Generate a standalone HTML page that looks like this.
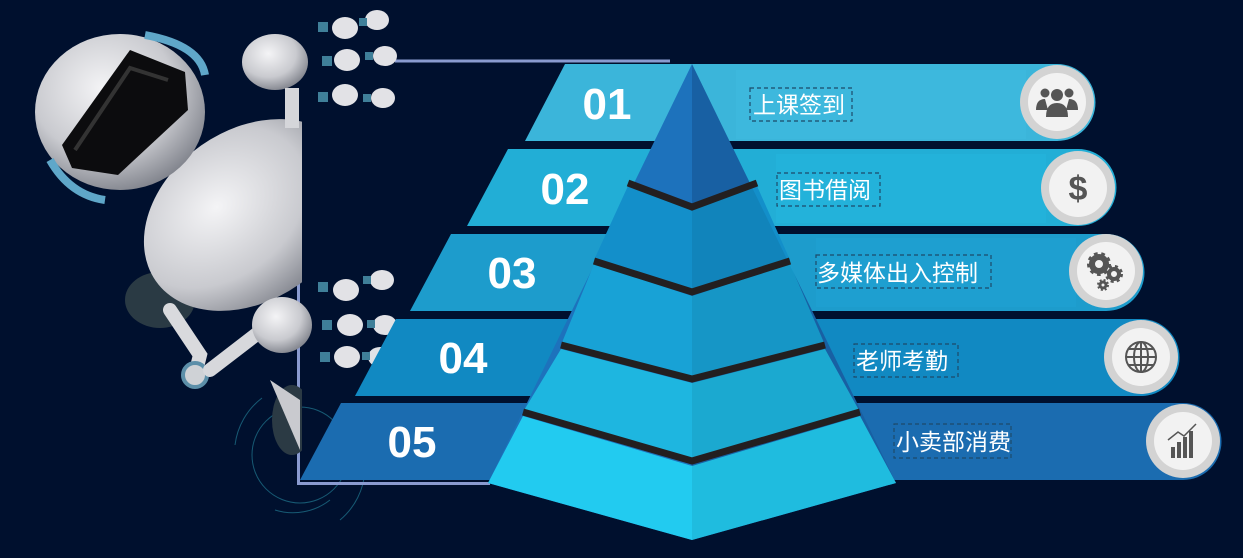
<!DOCTYPE html>
<html><head><meta charset="utf-8"><style>
html,body{margin:0;padding:0;background:#00102e;}
svg{display:block}
.n{font-family:"Liberation Sans",sans-serif;font-weight:bold;font-size:44px;fill:#fff;text-anchor:middle}
.t{font-family:"Liberation Sans","Noto Sans CJK SC",sans-serif;font-size:23px;fill:#fff}
.bx{fill:none;stroke:#1d4a6a;stroke-dasharray:4 3;stroke-width:1.2}
</style></head><body>
<svg width="1243" height="558" viewBox="0 0 1243 558" xmlns="http://www.w3.org/2000/svg">
<defs>
<radialGradient id="rb" cx="40%" cy="35%" r="70%"><stop offset="0" stop-color="#f4f4f6"/><stop offset=".6" stop-color="#c9cacf"/><stop offset="1" stop-color="#7c7f88"/></radialGradient>
<clipPath id="cl"><rect x="0" y="0" width="302" height="558"/></clipPath>
</defs>
<rect width="1243" height="558" fill="#00102e"/>
<g fill="none" stroke="#1d6d86" stroke-width="1" opacity=".8">
<circle cx="300" cy="455" r="48"/><path d="M235 445 A70 70 0 0 1 262 398"/><path d="M365 470 A70 70 0 0 1 340 520"/><path d="M275 510 A60 60 0 0 0 330 500"/>
</g>
<path d="M395 61 H670 M298.5 170 V483.5 H490" stroke="#8a9bd0" stroke-width="3" fill="none"/>
<!-- robot -->
<g clip-path="url(#cl)">
<ellipse cx="160" cy="300" rx="35" ry="28" fill="#2a3a44"/>
<ellipse cx="292" cy="420" rx="20" ry="35" fill="#2b3a44"/>
<ellipse cx="250" cy="215" rx="115" ry="85" fill="url(#rb)" transform="rotate(-35 250 215)"/>
<path d="M270 380 L300 450 L300 400 Z" fill="#c9cacf"/>
</g>
<g>
<ellipse cx="120" cy="112" rx="85" ry="78" fill="url(#rb)"/>
<path d="M62 145 L130 50 L185 72 L188 110 L118 175 L72 168 Z" fill="#0c0c0e"/>
<path d="M75 150 L130 68 L168 80" stroke="#333" stroke-width="4" fill="none"/>
<path d="M145 35 Q200 45 205 75" stroke="#5fa7c9" stroke-width="8" fill="none"/>
<path d="M50 160 Q70 195 105 200" stroke="#5fa7c9" stroke-width="8" fill="none"/>
<path d="M170 310 L200 355 L195 375" stroke="#d9dadd" stroke-width="14" fill="none" stroke-linecap="round"/>
<circle cx="195" cy="375" r="12" fill="#cfd2d6" stroke="#5c8fa9" stroke-width="4"/>
<path d="M210 370 L262 330" stroke="#d7d8dc" stroke-width="14" stroke-linecap="round"/>
<ellipse cx="282" cy="325" rx="30" ry="28" fill="url(#rb)"/>
<ellipse cx="275" cy="62" rx="33" ry="28" fill="url(#rb)"/>
<rect x="285" y="88" width="14" height="40" fill="#d5d6da"/>
<g fill="#e2e2e6"><ellipse cx="345" cy="28" rx="13" ry="11"/><ellipse cx="377" cy="20" rx="12" ry="10"/><ellipse cx="347" cy="60" rx="13" ry="11"/><ellipse cx="385" cy="56" rx="12" ry="10"/><ellipse cx="345" cy="95" rx="13" ry="11"/><ellipse cx="383" cy="98" rx="12" ry="10"/>
<ellipse cx="346" cy="290" rx="13" ry="11"/><ellipse cx="382" cy="280" rx="12" ry="10"/><ellipse cx="350" cy="325" rx="13" ry="11"/><ellipse cx="385" cy="325" rx="12" ry="10"/><ellipse cx="347" cy="357" rx="13" ry="11"/><ellipse cx="380" cy="357" rx="12" ry="10"/></g>
<g fill="#3f7f99"><rect x="318" y="22" width="10" height="10"/><rect x="359" y="18" width="8" height="8"/><rect x="322" y="56" width="10" height="10"/><rect x="365" y="52" width="8" height="8"/><rect x="318" y="92" width="10" height="10"/><rect x="363" y="94" width="8" height="8"/>
<rect x="318" y="282" width="10" height="10"/><rect x="363" y="276" width="8" height="8"/><rect x="322" y="320" width="10" height="10"/><rect x="367" y="320" width="8" height="8"/><rect x="320" y="352" width="10" height="10"/><rect x="362" y="352" width="8" height="8"/></g>
</g>
<!-- bands -->
<g>
<path d="M565 64 H1057 A38.5 38.5 0 0 1 1057 141 H525 Z" fill="#3bb5da"/>
<path d="M508 149 H1078 A38.5 38.5 0 0 1 1078 226 H467 Z" fill="#22aed6"/>
<path d="M451 234 H1106 A38.5 38.5 0 0 1 1106 311 H410 Z" fill="#1d9ccc"/>
<path d="M396 319 H1141 A38.5 38.5 0 0 1 1141 396 H355 Z" fill="#1189c2"/>
<path d="M341 403 H1183 A38.5 38.5 0 0 1 1183 480 H300 Z" fill="#1b6cb0"/>
<rect x="736" y="70" width="290" height="69" fill="#3fbbdf" opacity=".6"/>
<rect x="776" y="154" width="270" height="69" fill="#25b4dc" opacity=".6"/>
<rect x="816" y="238" width="260" height="69" fill="#1fa2d2" opacity=".6"/>
</g>
<g class="n"><text x="607" y="119">01</text><text x="565" y="204">02</text><text x="512" y="288">03</text><text x="463" y="373">04</text><text x="412" y="457">05</text></g>
<rect class="bx" x="750" y="88" width="102" height="33"/><text class="t" x="753" y="113">上课签到</text>
<rect class="bx" x="777" y="173" width="103" height="33"/><text class="t" x="779" y="198">图书借阅</text>
<rect class="bx" x="816" y="255" width="175" height="33"/><text class="t" x="817" y="281">多媒体出入控制</text>
<rect class="bx" x="854" y="344" width="104" height="33"/><text class="t" x="856" y="369">老师考勤</text>
<rect class="bx" x="894" y="424" width="117" height="34"/><text class="t" x="896" y="450">小卖部消费</text>
<!-- pyramid -->
<g>
<path d="M692 64 L692 540 L488 483 Z" fill="#1d72bc"/>
<path d="M692 64 L692 540 L896 483 Z" fill="#1a68b0"/>
<path d="M628 186 L692 210 L757 186 L790 260 L692 292 L594 260 Z" fill="#138fca"/>
<path d="M594 264 L692 296 L790 264 L825 345 L692 380 L561 345 Z" fill="#18a2d6"/>
<path d="M561 349 L692 383 L825 349 L860 412 L692 462 L523 412 Z" fill="#1eb6e0"/>
<path d="M523 416 L692 466 L860 416 L896 483 L692 540 L488 483 Z" fill="#22cbf0"/>
<path d="M692 64 L896 483 L692 540 Z" fill="#000" opacity=".07"/>
<g stroke="#231f20" stroke-width="7" fill="none">
<path d="M628 183 L692 207 L757 183"/><path d="M594 261 L692 292 L790 261"/><path d="M561 345 L692 379 L825 345"/><path d="M523 412 L692 461 L860 412"/>
</g>
</g>
<!-- icons -->
<g>
<circle cx="1057" cy="102" r="37" fill="#d3d3d3"/><circle cx="1057" cy="102" r="29" fill="#f2f2f2"/>
<circle cx="1078" cy="188" r="37" fill="#d3d3d3"/><circle cx="1078" cy="188" r="29" fill="#f2f2f2"/>
<circle cx="1106" cy="271" r="37" fill="#d3d3d3"/><circle cx="1106" cy="271" r="29" fill="#f2f2f2"/>
<circle cx="1141" cy="357" r="37" fill="#d3d3d3"/><circle cx="1141" cy="357" r="29" fill="#f2f2f2"/>
<circle cx="1183" cy="441" r="37" fill="#d3d3d3"/><circle cx="1183" cy="441" r="29" fill="#f2f2f2"/>
<g fill="#555"><circle cx="1057" cy="95" r="6"/><path d="M1046 117 Q1046 103 1057 103 Q1068 103 1068 117 Z"/><circle cx="1045" cy="93" r="4.5"/><circle cx="1069" cy="93" r="4.5"/><path d="M1036 110 Q1036 99 1045 99 L1048 110Z"/><path d="M1078 110 Q1078 99 1069 99 L1066 110Z"/></g>
<text x="1078" y="200" font-family="Liberation Sans" font-weight="bold" font-size="34" fill="#555" text-anchor="middle">$</text>
<g fill="none" stroke="#555">
<circle cx="1099" cy="264" r="7" stroke-width="6"/><circle cx="1099" cy="264" r="10" stroke-width="4" stroke-dasharray="3.5 3.5"/>
<circle cx="1114" cy="274" r="5" stroke-width="4"/><circle cx="1114" cy="274" r="7.5" stroke-width="3" stroke-dasharray="3 3"/>
<circle cx="1103" cy="285" r="3" stroke-width="3"/><circle cx="1103" cy="285" r="5" stroke-width="2" stroke-dasharray="2 2"/>
</g>
<g fill="none" stroke="#555" stroke-width="2"><circle cx="1141" cy="357" r="15"/><ellipse cx="1141" cy="357" rx="7" ry="15"/><path d="M1126 357 H1156 M1141 342 V372 M1129 349 H1153 M1129 365 H1153"/></g>
<g fill="#555"><rect x="1171" y="447" width="4" height="11"/><rect x="1177" y="442" width="4" height="16"/><rect x="1183" y="437" width="4" height="21"/><rect x="1189" y="431" width="4" height="27"/></g>
<path d="M1168 440 L1178 432 L1184 436 L1196 424" stroke="#555" stroke-width="1.5" fill="none"/>
</g>
</svg>
</body></html>
